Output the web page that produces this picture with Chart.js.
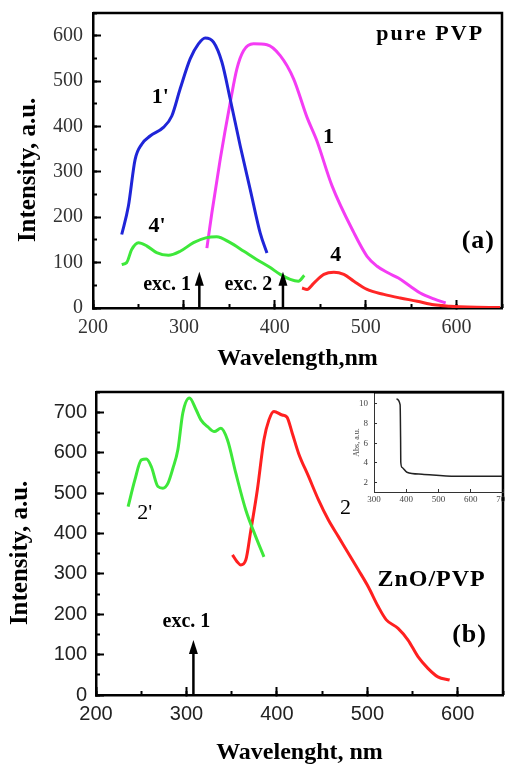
<!DOCTYPE html>
<html>
<head>
<meta charset="utf-8">
<script src="https://cdn.jsdelivr.net/npm/chart.js@4.4.1/dist/chart.umd.min.js"></script>
<style>
  body { margin: 0; background: #fff; }
  #wrap { position: relative; width: 505px; height: 765px; overflow: hidden; }
  canvas { position: absolute; }
  #graphA { left: 0; top: 0; }
  #graphB { left: 0; top: 380px; }
  #inset { left: 340px; top: 385px; }
</style>
</head>
<body>
<div id="wrap">
  <canvas id="graphA" width="505" height="380"></canvas>
  <canvas id="graphB" width="505" height="385"></canvas>
  <canvas id="inset" width="165" height="122"></canvas>
</div>
<script>
// ---- (a) pure PVP ----
const wlBlue = [231.6, 238.9, 246.3, 253.6, 262.8, 277.5, 286.7, 295.9, 306.9, 316, 323.4, 332.6, 341.8, 351, 362, 373, 384, 391.4];
const intBlue = [162, 224, 327, 361, 379, 398, 423, 483, 549, 582, 595, 586, 542, 460, 357, 261, 165, 121];

const wlMagenta = [325.3, 330.8, 340, 351, 358.3, 365.6, 376.6, 391.4, 406, 420.7, 435.5, 446, 463, 487, 501.5, 512.6, 525, 536, 549, 560, 575, 588];
const intMagenta = [132, 210, 328, 453, 527, 567, 582, 580, 556, 505, 420, 370, 269, 166, 114, 92, 77, 66, 48, 33, 20, 11];

const wlRed4 = [430, 435.5, 443, 454, 465, 476, 487, 501.5, 520, 538, 556.7, 575, 593, 612, 648];
const intRed4 = [44, 41, 55, 74, 79, 74, 59, 41, 30, 22, 15, 7, 4, 2, 1];

const wlGreen4 = [231.6, 237, 242.6, 250, 259, 270, 283, 296, 310.6, 325, 336, 351, 366, 380, 395, 406, 417, 426, 432.5];
const intGreen4 = [96, 100, 129, 144, 137, 122, 116, 125, 144, 155, 157, 144, 125, 107, 89, 74, 63, 59, 72];

// ---- (b) ZnO/PVP ----
const wlGreen2 = [235.5, 242.9, 250.2, 255.7, 261.2, 268.5, 274, 279.5, 285, 290.5, 296, 303.3, 310.7, 316, 323.4, 330.8, 338.1, 345.4, 354.6, 365.6, 376.6, 385.7];
const intGreen2 = [466, 532, 582, 584, 565, 516, 512, 524, 561, 607, 698, 735, 706, 681, 664, 652, 660, 631, 549, 458, 392, 342];

const wlRed2 = [350.9, 356, 360, 365.6, 371, 378.4, 385.7, 391.2, 396.7, 405.8, 411, 417, 424, 435, 446, 457, 468, 479, 490, 501, 512, 521, 534, 545, 556, 567, 578, 591];
const intRed2 = [347, 330, 322, 334, 405, 508, 632, 681, 702, 693, 688, 648, 598, 541, 483, 433, 392, 351, 310, 268, 219, 186, 165, 136, 95, 66, 45, 37];

// ---- inset: absorption ----
const wlAbs = [369.7, 381, 382.5, 383, 387, 402, 449, 553, 699];
const absVal = [10.5, 9.9, 6.3, 4.1, 3.55, 3.05, 2.85, 2.64, 2.64];

const SERIF = '"Liberation Serif", "DejaVu Serif", serif';
const SANS = '"Liberation Sans", Arial, sans-serif';

function pts(xs, ys) {
    return xs.map((x, i) => ({x: x, y: ys[i]}));
}

function line(xs, ys, color, w) {
    return {
        data: pts(xs, ys),
        showLine: true,
        borderColor: color,
        borderWidth: w || 3,
        pointRadius: 0,
        cubicInterpolationMode: 'monotone'
    };
}

// fixed axis size, no label overhang padding
function fixX(h) {
    return s => { s.height = h; s.paddingLeft = 0; s.paddingRight = 0; };
}
function fixY(w) {
    return s => { s.width = w; s.paddingTop = 0; s.paddingBottom = 0; };
}

// labels, arrows and the top/right frame
const marks = {
    id: 'marks',
    afterDraw(chart, args, opts) {
        const ctx = chart.ctx;
        const a = chart.chartArea;
        const sx = chart.scales.x, sy = chart.scales.y;
        ctx.save();
        if (opts.frame) {
            ctx.strokeStyle = '#000';
            ctx.lineWidth = opts.frame;
            ctx.beginPath();
            ctx.moveTo(a.left, a.top);
            ctx.lineTo(a.right, a.top);
            ctx.lineTo(a.right, a.bottom);
            ctx.stroke();
        }
        (opts.arrows || []).forEach(ar => {
            const x = sx.getPixelForValue(ar.x);
            const y0 = sy.getPixelForValue(0);
            const y1 = sy.getPixelForValue(ar.to);
            ctx.strokeStyle = '#000';
            ctx.fillStyle = '#000';
            ctx.lineWidth = 2.5;
            ctx.beginPath();
            ctx.moveTo(x, y0);
            ctx.lineTo(x, y1 + 10);
            ctx.stroke();
            ctx.beginPath();
            ctx.moveTo(x, y1);
            ctx.lineTo(x - 4.5, y1 + 14);
            ctx.lineTo(x + 4.5, y1 + 14);
            ctx.closePath();
            ctx.fill();
        });
        (opts.labels || []).forEach(l => {
            ctx.font = l.font;
            ctx.fillStyle = '#000';
            ctx.textAlign = 'center';
            ctx.textBaseline = 'middle';
            ctx.letterSpacing = l.sp || '0px';
            ctx.fillText(l.text, sx.getPixelForValue(l.x), sy.getPixelForValue(l.y));
        });
        ctx.restore();
    }
};

function mainScales(o) {
    return {
        x: {
            type: 'linear', position: 'bottom', min: 200, max: 650,
            afterFit: fixX(o.xh),
            ticks: {stepSize: 100, includeBounds: false, padding: o.xPad, color: o.tickColor, font: o.tickFont},
            grid: {drawOnChartArea: false, tickLength: -8, tickWidth: 2, tickColor: '#000'},
            border: {color: '#000', width: 2.5},
            title: {display: true, text: o.xTitle, color: '#000',
                font: {family: SERIF, size: 24, weight: 'bold', lineHeight: 1},
                padding: {top: 0, bottom: o.xTitlePad}}
        },
        xMinor: {
            type: 'linear', position: 'bottom', weight: -1, min: 200, max: 650,
            afterFit: fixX(0),
            ticks: {display: false, stepSize: 50, includeBounds: false},
            grid: {drawOnChartArea: false, tickLength: -4, tickWidth: 2, tickColor: '#000'},
            border: {display: false}
        },
        y: {
            type: 'linear', position: 'left', min: 0, max: o.yMax,
            afterFit: fixY(o.yw),
            ticks: {stepSize: 100, includeBounds: false, padding: o.yPad, color: o.tickColor, font: o.tickFont},
            grid: {drawOnChartArea: false, tickLength: -8, tickWidth: 2, tickColor: '#000'},
            border: {color: '#000', width: 2.5},
            title: {display: true, text: 'Intensity, a.u.   ', color: '#000',
                font: {family: SERIF, size: 25, weight: 'bold', lineHeight: 1},
                padding: {top: o.yTitlePad, bottom: 0}}
        },
        yMinor: {
            type: 'linear', position: 'left', weight: -1, min: 0, max: o.yMax,
            afterFit: fixY(0),
            ticks: {display: false, stepSize: 50, includeBounds: false},
            grid: {drawOnChartArea: false, tickLength: -4, tickWidth: 2, tickColor: '#000'},
            border: {display: false}
        }
    };
}

new Chart(document.getElementById('graphA'), {
    type: 'scatter',
    data: {
        datasets: [
            line(wlGreen4, intGreen4, '#3ee83a'),
            line(wlRed4, intRed4, '#ff2626'),
            line(wlBlue, intBlue, '#1f25d8'),
            line(wlMagenta, intMagenta, '#f43cf4')
        ]
    },
    options: {
        responsive: false,
        animation: false,
        layout: {padding: {top: 13, right: 3, left: 0, bottom: 0}},
        scales: mainScales({
            xh: 72, yw: 93, yMax: 650, yPad: 18, xPad: 16, tickColor: '#333',
            tickFont: {family: SERIF, size: 20},
            xTitle: 'Wavelength,nm', xTitlePad: 9, yTitlePad: 16
        }),
        plugins: {
            legend: {display: false},
            tooltip: {enabled: false},
            marks: {
                frame: 2.5,
                arrows: [{x: 317, to: 80}, {x: 409, to: 80}],
                labels: [
                    {text: 'pure PVP', x: 571, y: 604, font: 'bold 22px ' + SERIF, sp: '2px'},
                    {text: "1'", x: 274, y: 465, font: 'bold 22px ' + SERIF},
                    {text: '1', x: 459, y: 376, font: 'bold 22px ' + SERIF},
                    {text: "4'", x: 270.5, y: 179, font: 'bold 22px ' + SERIF},
                    {text: '4', x: 467, y: 117, font: 'bold 22px ' + SERIF},
                    {text: '(a)', x: 624, y: 146, font: 'bold 26px ' + SERIF, sp: '1px'},
                    {text: 'exc. 1', x: 281.5, y: 51, font: 'bold 20px ' + SERIF},
                    {text: 'exc. 2', x: 371, y: 51, font: 'bold 20px ' + SERIF}
                ]
            }
        }
    },
    plugins: [marks]
});

new Chart(document.getElementById('graphB'), {
    type: 'scatter',
    data: {
        datasets: [
            line(wlGreen2, intGreen2, '#3ee83a'),
            line(wlRed2, intRed2, '#ff2020')
        ]
    },
    options: {
        responsive: false,
        animation: false,
        layout: {padding: {top: 12, right: 2, left: 0, bottom: 0}},
        scales: mainScales({
            xh: 70, yw: 96, yMax: 750, yPad: 17, xPad: 15, tickColor: '#222',
            tickFont: {family: SANS, size: 20},
            xTitle: 'Wavelenght, nm', xTitlePad: 0, yTitlePad: 8
        }),
        plugins: {
            legend: {display: false},
            tooltip: {enabled: false},
            marks: {
                frame: 2.5,
                arrows: [{x: 307.7, to: 136}],
                labels: [
                    {text: "2'", x: 253.8, y: 451, font: '22px ' + SERIF},
                    {text: '2', x: 475.8, y: 463, font: '22px ' + SERIF},
                    {text: 'ZnO/PVP', x: 571, y: 285, font: 'bold 24px ' + SERIF, sp: '1px'},
                    {text: '(b)', x: 613, y: 149, font: 'bold 26px ' + SERIF, sp: '1px'},
                    {text: 'exc. 1', x: 300, y: 181, font: 'bold 20px ' + SERIF}
                ]
            }
        }
    },
    plugins: [marks]
});

new Chart(document.getElementById('inset'), {
    type: 'scatter',
    data: {
        datasets: [line(wlAbs, absVal, '#222', 1.5)]
    },
    options: {
        responsive: false,
        animation: false,
        layout: {padding: {top: 8, right: 2, left: 0, bottom: 0}},
        scales: {
            x: {
                type: 'linear', position: 'bottom', min: 300, max: 700,
                afterFit: fixX(15),
                ticks: {stepSize: 100, includeBounds: false, padding: 6, color: '#444',
                    font: {family: SERIF, size: 9, lineHeight: 1}},
                grid: {drawOnChartArea: false, tickLength: -3, tickWidth: 1, tickColor: '#333'},
                border: {color: '#333', width: 1}
            },
            y: {
                type: 'linear', position: 'left', min: 1.05, max: 11.1,
                afterFit: fixY(34),
                ticks: {stepSize: 2, includeBounds: false, padding: 9, color: '#444',
                    font: {family: SERIF, size: 9}},
                grid: {drawOnChartArea: false, tickLength: -3, tickWidth: 1, tickColor: '#333'},
                border: {color: '#333', width: 1},
                title: {display: true, text: 'Abs, a.u.', color: '#444',
                    font: {family: SERIF, size: 8, lineHeight: 1},
                    padding: {top: 13, bottom: 0}}
            }
        },
        plugins: {
            legend: {display: false},
            tooltip: {enabled: false},
            marks: {frame: 1}
        }
    },
    plugins: [marks]
});
</script>
</body>
</html>
